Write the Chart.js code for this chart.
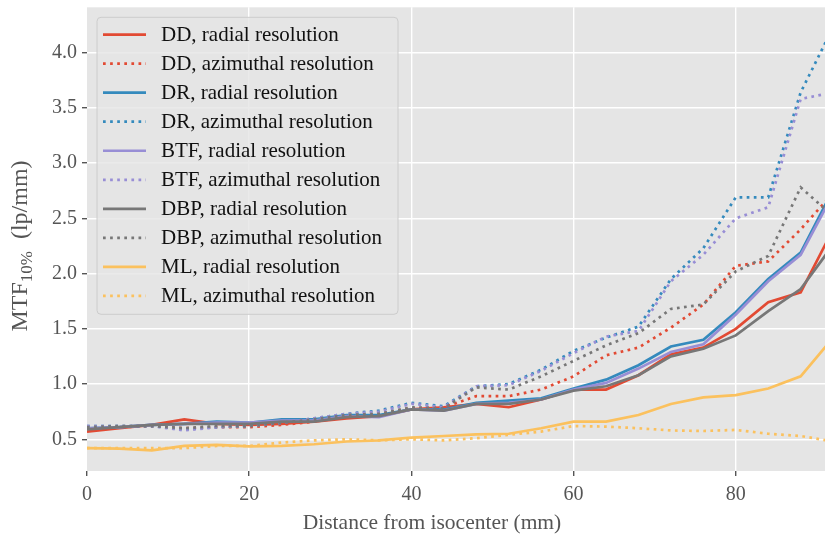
<!DOCTYPE html>
<html><head><meta charset="utf-8">
<script src="https://cdn.jsdelivr.net/npm/chart.js@4.4.0/dist/chart.umd.min.js"></script>
<style>html,body{margin:0;padding:0;background:#fff}#wrap{width:825px;height:543px;position:relative}</style>
</head><body><div id="wrap"><canvas id="c"></canvas></div>
<script>
// ===== MTF10% vs distance (radial / azimuthal) =====
var dist=[0,4,8,12,16,20,24,28,32,36,40,44,48,52,56,60,64,68,72,76,80,84,88,92];
var ddRad =[0.57,0.60,0.63,0.68,0.64,0.63,0.64,0.66,0.69,0.71,0.77,0.79,0.82,0.79,0.86,0.95,0.95,1.08,1.27,1.33,1.50,1.74,1.83,2.40];
var ddAzi =[0.60,0.61,0.62,0.60,0.61,0.61,0.63,0.66,0.70,0.73,0.78,0.79,0.89,0.89,0.95,1.07,1.26,1.33,1.51,1.72,2.07,2.11,2.40,2.73];
var drRad =[0.60,0.61,0.63,0.64,0.66,0.65,0.68,0.68,0.72,0.72,0.77,0.77,0.83,0.85,0.87,0.96,1.04,1.17,1.34,1.40,1.65,1.95,2.19,2.76];
var drAzi =[0.62,0.62,0.62,0.59,0.61,0.62,0.65,0.69,0.73,0.76,0.83,0.80,0.98,1.00,1.13,1.30,1.42,1.52,1.95,2.23,2.69,2.69,3.64,4.23];
var btfRad=[0.60,0.61,0.63,0.64,0.65,0.65,0.67,0.67,0.71,0.70,0.77,0.76,0.82,0.83,0.86,0.95,1.01,1.14,1.29,1.36,1.63,1.93,2.17,2.72];
var btfAzi=[0.62,0.62,0.62,0.58,0.61,0.62,0.65,0.69,0.73,0.75,0.82,0.79,0.98,0.99,1.12,1.28,1.43,1.48,1.93,2.17,2.50,2.60,3.58,3.64];
var dbpRad=[0.59,0.61,0.63,0.64,0.64,0.64,0.66,0.66,0.70,0.71,0.77,0.76,0.82,0.82,0.86,0.94,0.98,1.08,1.25,1.32,1.44,1.66,1.86,2.26];
var dbpAzi=[0.61,0.62,0.62,0.60,0.62,0.62,0.65,0.68,0.72,0.73,0.79,0.78,0.97,0.95,1.07,1.21,1.35,1.46,1.68,1.72,2.02,2.16,2.78,2.52];
var mlRad =[0.42,0.415,0.40,0.44,0.45,0.435,0.44,0.455,0.48,0.49,0.515,0.53,0.545,0.55,0.60,0.66,0.66,0.72,0.82,0.88,0.90,0.96,1.07,1.42];
var mlAzi =[0.42,0.42,0.42,0.42,0.44,0.44,0.47,0.49,0.50,0.49,0.50,0.49,0.51,0.54,0.57,0.62,0.615,0.60,0.58,0.575,0.585,0.55,0.53,0.48];
var methods=['DD','DR','BTF','DBP','ML'];
var colors=['#E24A33','#348ABD','#988ED5','#777777','#FBC15E'];
var radial=[ddRad,drRad,btfRad,dbpRad,mlRad], azimuthal=[ddAzi,drAzi,btfAzi,dbpAzi,mlAzi];
var xTicks=[0,20,40,60,80], yTicks=[0.5,1.0,1.5,2.0,2.5,3.0,3.5,4.0];
var xTitle='Distance from isocenter (mm)';
var SERIF='"Liberation Serif","DejaVu Serif",serif';
var LW=2.7, DOT=[2.7,4.4];

function pts(ys){return dist.map(function(x,i){return {x:x,y:ys[i]};});}
var sets=[];
methods.forEach(function(m,i){
 sets.push({label:m+', radial resolution',data:pts(radial[i]),borderColor:colors[i],borderWidth:LW,pointRadius:0,fill:false,tension:0});
 sets.push({label:m+', azimuthal resolution',data:pts(azimuthal[i]),borderColor:colors[i],borderWidth:LW,borderDash:DOT,borderCapStyle:'butt',pointRadius:0,fill:false,tension:0});
});
sets.forEach(function(s,i){s.order=100-i;});

var bgPlugin={id:'bg',beforeDraw:function(ch){var a=ch.chartArea,c=ch.ctx;c.save();c.fillStyle='#E5E5E5';c.fillRect(a.left,a.top,a.right-a.left,a.bottom-a.top);c.restore();}};

var legendPlugin={id:'lg',afterDatasetsDraw:function(ch){
 var a=ch.chartArea,c=ch.ctx, x0=a.left+10, y0=a.top+10, w=301, h=297, r=4;
 c.save();
 c.beginPath();c.moveTo(x0+r,y0);c.lineTo(x0+w-r,y0);c.quadraticCurveTo(x0+w,y0,x0+w,y0+r);c.lineTo(x0+w,y0+h-r);c.quadraticCurveTo(x0+w,y0+h,x0+w-r,y0+h);
 c.lineTo(x0+r,y0+h);c.quadraticCurveTo(x0,y0+h,x0,y0+h-r);c.lineTo(x0,y0+r);c.quadraticCurveTo(x0,y0,x0+r,y0);c.closePath();
 c.fillStyle='rgba(229,229,229,0.8)';c.fill();c.strokeStyle='#CCCCCC';c.lineWidth=1;c.stroke();
 c.font='21px '+SERIF;c.textBaseline='middle';c.fillStyle='#111';
 ch.data.datasets.forEach(function(d,i){
  var yy=y0+17.3+i*29.04;
  c.beginPath();c.setLineDash(d.borderDash||[]);c.lineCap='butt';c.strokeStyle=d.borderColor;c.lineWidth=LW;
  c.moveTo(x0+6,yy);c.lineTo(x0+49,yy);c.stroke();c.setLineDash([]);
  c.fillText(d.label,x0+64,yy+1);
 });
 c.restore();
}};

// axis titles (y has a subscript)
var titlePlugin={id:'tt',afterDraw:function(ch){
 var c=ch.ctx;
 c.save();c.fillStyle='#555555';c.font='21.5px '+SERIF;c.textAlign='center';c.textBaseline='middle';
 c.fillText(xTitle,432,523);c.restore();
 c.save();c.translate(24,246);c.rotate(-Math.PI/2);c.fillStyle='#555555';c.textBaseline='alphabetic';c.textAlign='left';
 var fMain='24px '+SERIF, fSub='17px '+SERIF;
 c.font=fMain;var w1=c.measureText('MTF').width, w3=c.measureText('  (lp/mm)').width;
 c.font=fSub;var w2=c.measureText('10%').width;
 var s=-(w1+w2+w3)/2, b=3;
 c.font=fMain;c.fillText('MTF',s,b);
 c.font=fSub;c.fillText('10%',s+w1,b+5);
 c.font=fMain;c.fillText('  (lp/mm)',s+w1+w2,b);
 c.restore();
}};

new Chart(document.getElementById('c'),{
 type:'line',
 data:{datasets:sets},
 options:{responsive:true,maintainAspectRatio:false,animation:false,
  layout:{padding:{top:7.3,right:0,bottom:0,left:0}},
  plugins:{legend:{display:false},tooltip:{enabled:false}},
  scales:{
   x:{type:'linear',min:0,max:91.0,
    afterBuildTicks:function(s){s.ticks=xTicks.map(function(v){return {value:v};});},
    afterFit:function(s){s.height=72;s.paddingLeft=0;s.paddingRight=0;},
    border:{display:false},
    grid:{color:function(ctx){return ctx.tick&&ctx.tick.value===0?'rgba(0,0,0,0)':'#FFFFFF';},lineWidth:1.4,tickColor:'#555555',tickLength:5,tickWidth:1.4},
    ticks:{color:'#555555',font:{family:SERIF,size:20},padding:7,maxRotation:0,callback:function(v){return String(v);}}
   },
   y:{type:'linear',min:0.213,max:4.41,
    afterBuildTicks:function(s){s.ticks=yTicks.map(function(v){return {value:v};});},
    afterFit:function(s){s.width=87;s.paddingTop=0;s.paddingBottom=0;},
    border:{display:false},
    grid:{color:'#FFFFFF',lineWidth:1.4,tickColor:'#555555',tickLength:5,tickWidth:1.4},
    ticks:{color:'#555555',font:{family:SERIF,size:20},padding:5,callback:function(v){return Number(v).toFixed(1);}}
   }
  }
 },
 plugins:[bgPlugin,legendPlugin,titlePlugin]
});
</script></body></html>
